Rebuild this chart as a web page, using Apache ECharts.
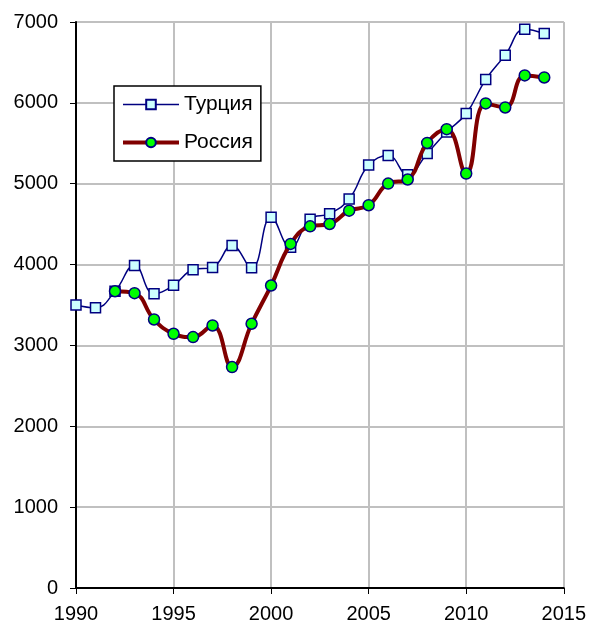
<!DOCTYPE html>
<html><head><meta charset="utf-8">
<script src="https://cdn.jsdelivr.net/npm/echarts@6/dist/echarts.min.js"></script>
<style>html,body{margin:0;padding:0;background:#fff}#c{width:589px;height:624px}</style>
</head><body><div id="c"></div>
<script>
const years = [1990,1991,1992,1993,1994,1995,1996,1997,1998,1999,2000,2001,2002,2003,2004,2005,2006,2007,2008,2009,2010,2011,2012,2013,2014];
const turkey = [3500,3465,3670,3990,3640,3745,3935,3965,4235,3960,4585,4215,4560,4630,4810,5230,5350,5110,5375,5640,5868,6288,6590,6910,6857];
const russia = [null,null,3670,3646,3321,3144,3103,3247,2732,3268,3741,4255,4473,4502,4667,4734,5002,5052,5505,5675,5126,5993,5943,6339,6314];
const seriesNames = ['Турция','Россия'];
const xTicks = {min:1990,max:2015,step:5};
const yTicks = {min:0,max:7000,step:1000};

const chart = echarts.init(document.getElementById('c'));
const font = 'Liberation Sans, Arial, sans-serif';
chart.setOption({
  animation:false,
  grid:{left:76,right:23,top:22,bottom:36,show:true,borderColor:'#808080',borderWidth:1},
  legend:{
    left:114, top:86, orient:'vertical',
    backgroundColor:'#fff', borderColor:'#000', borderWidth:1.5,
    padding:[8,8,8,7], itemGap:17, itemWidth:56, itemHeight:12,
    textStyle:{fontFamily:font,fontSize:21,color:'#000'},
    data:[
      {name:seriesNames[0],lineStyle:{width:1.5}},
      {name:seriesNames[1],lineStyle:{width:4}}
    ]
  },
  xAxis:{type:'value',min:xTicks.min,max:xTicks.max,interval:xTicks.step,
    axisLine:{lineStyle:{color:'#000',width:2}},
    axisTick:{show:true,length:6,lineStyle:{color:'#000',width:1}},
    axisLabel:{fontFamily:font,fontSize:20,color:'#000',margin:16,formatter:v=>String(v)},
    splitLine:{show:true,lineStyle:{color:'#c0c0c0',width:2}}},
  yAxis:{type:'value',min:yTicks.min,max:yTicks.max,interval:yTicks.step,
    axisLine:{show:true,lineStyle:{color:'#000',width:2}},
    axisTick:{show:true,length:6,lineStyle:{color:'#000',width:1}},
    axisLabel:{fontFamily:font,fontSize:20,color:'#000',margin:18,formatter:v=>String(v)},
    splitLine:{show:true,lineStyle:{color:'#c0c0c0',width:2}}},
  series:[
    {name:seriesNames[0],type:'line',smooth:0.45,
     data:years.map((y,i)=>[y,turkey[i]]),
     symbol:'rect',symbolSize:10,
     lineStyle:{color:'#000080',width:1.5},
     itemStyle:{color:'#ccffff',borderColor:'#000080',borderWidth:1.5},
     z:2},
    {name:seriesNames[1],type:'line',smooth:0.45,
     data:years.map((y,i)=>[y,russia[i]]).filter(d=>d[1]!=null),
     symbol:'circle',symbolSize:11,
     lineStyle:{color:'#800000',width:4},
     itemStyle:{color:'#00ff00',borderColor:'#000080',borderWidth:1.5},
     z:3}
  ]
});
</script></body></html>
